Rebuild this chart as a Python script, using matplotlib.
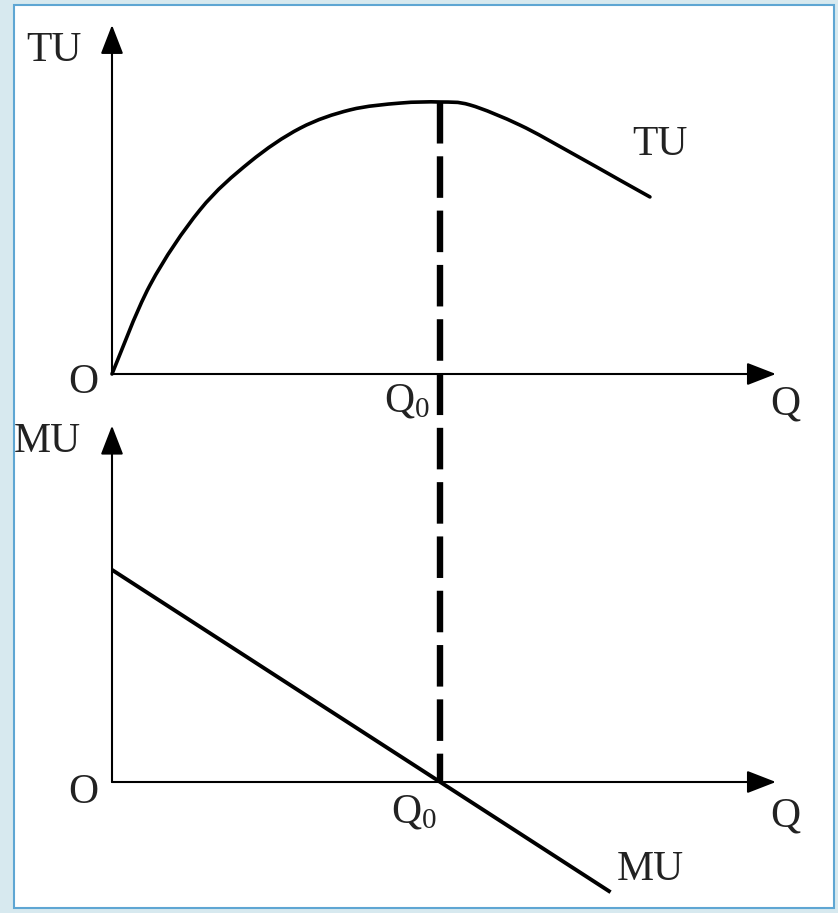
import matplotlib
matplotlib.use("Agg")
import matplotlib.pyplot as plt
import numpy as np
from matplotlib.patches import Rectangle, ConnectionPatch, PathPatch
from matplotlib.path import Path

plt.rcParams['font.family'] = ['Liberation Serif', 'DejaVu Serif']
plt.rcParams['mathtext.fontset'] = 'custom'
plt.rcParams['mathtext.rm'] = 'Liberation Serif'
plt.rcParams['mathtext.default'] = 'regular'

# total utility curve (Q, TU)
q_tu = [0, 0.58, 1.34, 2.10, 2.87, 3.63, 4.39, 5.0, 5.46, 6.22, 6.98, 7.74, 8.20]
tu = [0, 3.27, 6.03, 7.79, 9.04, 9.71, 9.96, 10.0, 9.89, 9.15, 8.16, 7.13, 6.51]

# marginal utility line (Q, MU)
q_mu = [0, 7.6]
mu = [7.8, -4.05]

q0 = 5.0
tu_max = 10.0

W, H = 838, 913
fig = plt.figure(figsize=(W / 100, H / 100), dpi=100)
fig.patch.set_facecolor('#d7e9ef')
fig.patches.append(Rectangle((14 / W, 1 - 908 / H), 820 / W, 903 / H,
                             transform=fig.transFigure, facecolor='white',
                             edgecolor='#5ea6d3', lw=1.5, zorder=-5))

# axes laid out so both panels share the same Q scale
ax1 = fig.add_axes([0, 1 - 430 / H, 1, 430 / H])
ax2 = fig.add_axes([0, 0, 1, 513 / H])
xlim = (-112 / 65.6, (W - 112) / 65.6)
for ax in (ax1, ax2):
    ax.set_xlim(*xlim)
    ax.axis('off')
    ax.patch.set_visible(False)
ax1.set_ylim((374 - 430) / 27.2, 374 / 27.2)
ax2.set_ylim((782 - 913) / 27.2, (782 - 400) / 27.2)

arrow = dict(arrowstyle='-|>,head_length=0.9,head_width=0.35', lw=1.5,
             color='black', mutation_scale=20, shrinkA=0, shrinkB=0)

def axes_arrows(ax, ytop):
    ax.annotate('', xy=(10.12, 0), xytext=(0, 0), arrowprops=arrow)
    ax.annotate('', xy=(0, ytop), xytext=(0, 0), arrowprops=arrow)

axes_arrows(ax1, 12.83)
axes_arrows(ax2, 13.1)

# smooth curve through the read points (Catmull-Rom as cubic Bezier)
pts = np.column_stack([q_tu, tu])
verts = [pts[0]]
codes = [Path.MOVETO]
for i in range(len(pts) - 1):
    p0 = pts[max(i - 1, 0)]
    p1, p2 = pts[i], pts[i + 1]
    p3 = pts[min(i + 2, len(pts) - 1)]
    verts += [p1 + (p2 - p0) / 6, p2 - (p3 - p1) / 6, p2]
    codes += [Path.CURVE4] * 3
ax1.add_patch(PathPatch(Path(verts, codes), facecolor='none',
                        edgecolor='black', lw=2.6, capstyle='round'))

ax2.plot(q_mu, mu, color='black', lw=2.8, solid_capstyle='butt')

dash = ConnectionPatch(xyA=(q0, tu_max), coordsA=ax1.transData,
                       xyB=(q0, 0), coordsB=ax2.transData,
                       color='black', lw=4.6, linestyle=(0, (6.5, 2.0)),
                       capstyle='butt', zorder=3)
fig.add_artist(dash)

fs = 30
txt = dict(fontsize=fs, color='#222222', ha='center', va='center')
ax1.text(-0.88, 11.87, 'TU', **txt)
ax1.text(-0.43, -0.33, 'O', **txt)
ax1.text(4.5, -1.0, r'Q$_0$', **txt)
ax1.text(10.27, -1.1, 'Q', **txt)
ax1.text(8.35, 8.42, 'TU', **txt)

ax2.text(-0.98, 12.5, 'MU', **txt)
ax2.text(-0.43, -0.4, 'O', **txt)
ax2.text(4.6, -1.1, r'Q$_0$', **txt)
ax2.text(10.26, -1.25, 'Q', **txt)
ax2.text(8.2, -3.24, 'MU', **txt)

fig.savefig('out.png', dpi=100, facecolor=fig.get_facecolor())
